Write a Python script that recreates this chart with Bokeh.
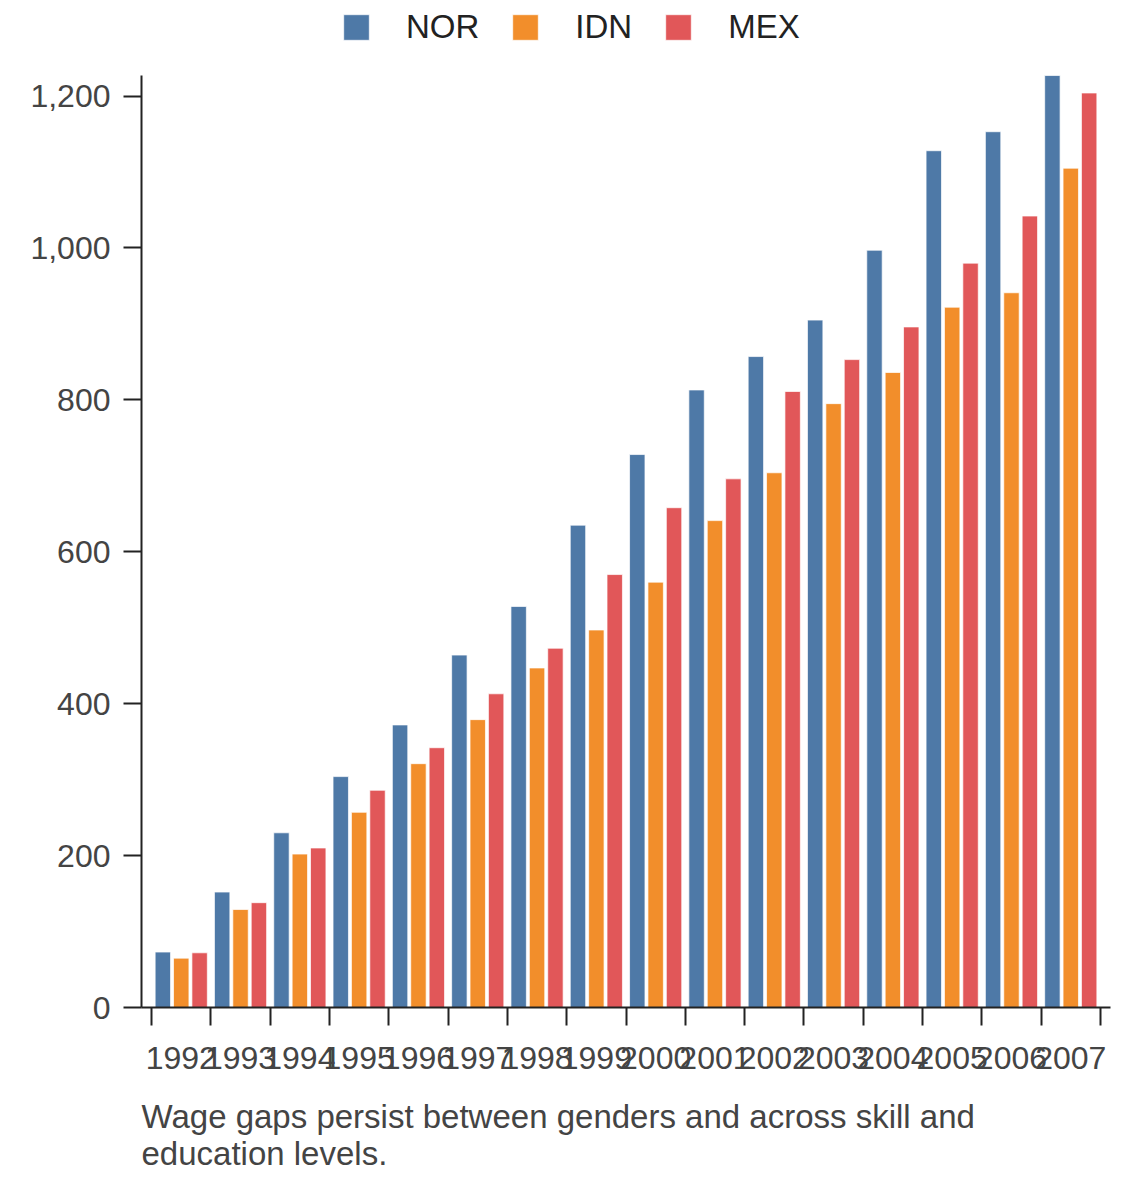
from bokeh.plotting import figure
from bokeh.models import (Range1d, FixedTicker, NumeralTickFormatter, Legend,
                          LegendItem, Title)
from bokeh.embed import file_html
from bokeh.resources import INLINE

years = ["1992", "1993", "1994", "1995", "1996", "1997", "1998", "1999",
         "2000", "2001", "2002", "2003", "2004", "2005", "2006", "2007"]
nor = [73, 152, 230, 304, 372, 464, 528, 635, 728, 813, 857, 905, 997, 1128, 1153, 1227]
idn = [65, 129, 202, 257, 321, 379, 447, 497, 560, 641, 704, 795, 836, 922, 941, 1105]
mex = [72, 138, 210, 286, 342, 413, 473, 570, 658, 696, 811, 853, 896, 980, 1042, 1204]
series = ["NOR", "IDN", "MEX"]
colors = ["#4e79a7", "#f28e2b", "#e15759"]
y_ticks = [0, 200, 400, 600, 800, 1000, 1200]
caption = ["Wage gaps persist between genders and across skill and",
           "education levels."]

FONT = "Liberation Sans"
n = len(years)
y_max = max(nor)

# frame runs to the top of the page so the legend can sit above the bars;
# the y axis itself is bounded to the data range
p = figure(width=1140, height=1180, output_backend="svg", toolbar_location=None,
           x_range=Range1d(-0.17, n + 0.17), y_range=Range1d(0, y_max * 1.0805),
           min_border_left=141, min_border_right=30, min_border_top=0,
           min_border_bottom=173)
p.outline_line_color = None
p.grid.grid_line_color = None

# grouped bars, three per year
offsets = [-0.31, 0.0, 0.31]
items = []
for name, vals, off, col in zip(series, [nor, idn, mex], offsets, colors):
    xs = [i + 0.5 + off for i in range(n)]
    r = p.vbar(x=xs, top=vals, bottom=0, width=0.26, fill_color=col,
               line_color="white", line_width=1, line_alpha=0.7)
    items.append(LegendItem(label=name, renderers=[r]))

# x axis: labels at group centres, ticks at group boundaries
xa = p.xaxis[0]
xa.ticker = FixedTicker(ticks=[i + 0.5 for i in range(n)],
                        minor_ticks=list(range(n + 1)))
xa.major_label_overrides = {i + 0.5: y for i, y in enumerate(years)}
xa.major_tick_line_color = None
xa.major_tick_out = 0
xa.major_tick_in = 0
xa.minor_tick_out = 18
xa.minor_tick_in = 0
xa.minor_tick_line_width = 2
xa.minor_tick_line_color = "#222222"
xa.axis_line_width = 2
xa.axis_line_color = "#222222"
xa.major_label_standoff = 21
xa.major_label_text_font = FONT
xa.major_label_text_font_size = "32px"
xa.major_label_text_color = "#444444"

ya = p.yaxis[0]
ya.bounds = (0, y_max)
ya.ticker = FixedTicker(ticks=y_ticks)
ya.formatter = NumeralTickFormatter(format="0,0")
ya.major_tick_out = 18
ya.major_tick_in = 0
ya.minor_tick_line_color = None
ya.major_tick_line_width = 2
ya.major_tick_line_color = "#222222"
ya.axis_line_width = 2
ya.axis_line_color = "#222222"
ya.major_label_standoff = 13
ya.major_label_text_font = FONT
ya.major_label_text_font_size = "32px"
ya.major_label_text_color = "#444444"

legend = Legend(items=items, orientation="horizontal", location=(199, 961),
                glyph_width=32, glyph_height=32, label_standoff=34,
                spacing=30, padding=0, margin=0,
                border_line_color=None, background_fill_alpha=0,
                label_text_font=FONT, label_text_font_size="33px",
                label_text_color="#222222")
p.add_layout(legend)

# blank spacer title pushes the caption down without padding below it
p.add_layout(Title(text=" ", text_font_size="1px", standoff=21), "below")
p.add_layout(Title(text="\n".join(caption), align="left", text_font=FONT,
                   text_font_size="33px", text_font_style="normal",
                   text_color="#444444", text_line_height=1.0,
                   standoff=0), "below")

open("out.html", "w").write(file_html(p, INLINE))
